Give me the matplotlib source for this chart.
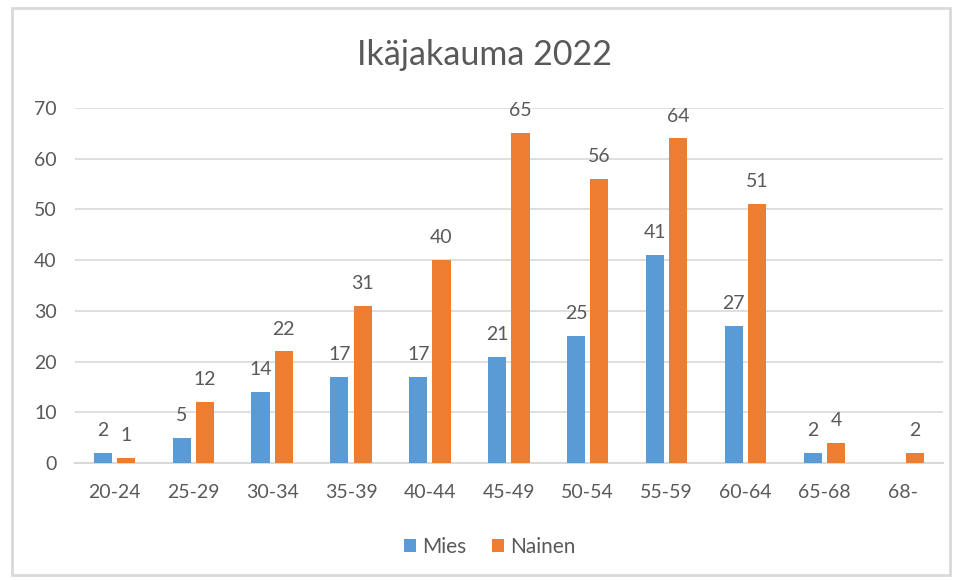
import matplotlib.pyplot as plt
import numpy as np
from matplotlib.patches import Rectangle

# age groups and counts per gender
categories = ['20-24', '25-29', '30-34', '35-39', '40-44', '45-49',
              '50-54', '55-59', '60-64', '65-68', '68-']
mies = [2, 5, 14, 17, 17, 21, 25, 41, 27, 2, None]
nainen = [1, 12, 22, 31, 40, 65, 56, 64, 51, 4, 2]

blue = '#5B9BD5'
orange = '#ED7D31'
txt = '#595959'

plt.rcParams['font.family'] = ['Lato', 'DejaVu Sans']

fig = plt.figure(figsize=(9.6, 5.8), dpi=100)
ax = fig.add_axes([0.078, 0.2017, 0.904, 0.6121])

# light frame around the whole chart, like the excel export
fig.patches.append(Rectangle((0.012, 0.008), 0.978, 0.978, transform=fig.transFigure,
                             fill=False, edgecolor='#d9d9d9', linewidth=2))

x = np.arange(len(categories))
w = 0.23
gap = 0.065

mies_vals = np.array([np.nan if v is None else v for v in mies], dtype=float)
b1 = ax.bar(x - (w + gap) / 2, np.nan_to_num(mies_vals), w, color=blue, label='Mies', zorder=3)
b2 = ax.bar(x + (w + gap) / 2, nainen, w, color=orange, label='Nainen', zorder=3)

#data labels above bars
for xi, v in zip(x, mies):
    if v is None:
        continue
    ax.annotate(str(v), (xi - (w + gap) / 2, v), xytext=(0, 10), textcoords='offset points',
                ha='center', va='bottom', fontsize=14, color=txt)
for xi, v in zip(x, nainen):
    ax.annotate(str(v), (xi + (w + gap) / 2, v), xytext=(0, 10), textcoords='offset points',
                ha='center', va='bottom', fontsize=14, color=txt)

ax.set_xlim(-0.5, len(categories) - 0.5)
ax.set_ylim(0, 70)
ax.set_yticks(range(0, 71, 10))
ax.set_xticks(x)
ax.set_xticklabels(categories)
ax.yaxis.grid(True, color='#d9d9d9', linewidth=1.2, zorder=0)
ax.set_axisbelow(True)
for s in ['top', 'right', 'left']:
    ax.spines[s].set_visible(False)
ax.spines['bottom'].set_color('#d9d9d9')
ax.spines['bottom'].set_linewidth(1.5)
ax.tick_params(axis='both', length=0, labelsize=14, labelcolor=txt)
ax.tick_params(axis='y', pad=13)
ax.tick_params(axis='x', pad=15)

fig.text(0.505, 0.905, 'Ikäjakauma 2022', ha='center', va='center', fontsize=24.5, color=txt)

fig.legend(handles=[b1, b2], loc='center', bbox_to_anchor=(0.51, 0.057), ncol=2, frameon=False,
           fontsize=15, labelcolor=txt, handlelength=0.6, handleheight=0.6,
           handletextpad=0.3, columnspacing=1.2)

fig.savefig('out.png', dpi=100)
